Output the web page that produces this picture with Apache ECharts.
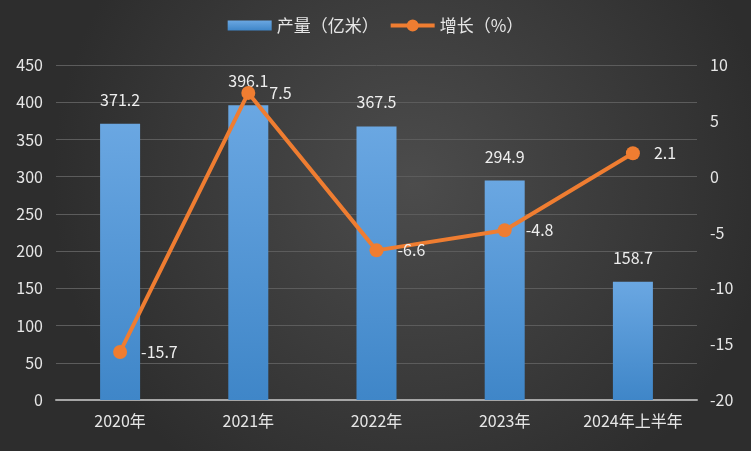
<!DOCTYPE html>
<html><head><meta charset="utf-8">
<script src="https://cdn.jsdelivr.net/npm/echarts@6/dist/echarts.min.js"></script>
<style>html,body{margin:0;padding:0;}#c{width:751px;height:451px;}</style>
</head><body><div id="c"></div>
<script>
const categories = ['2020年','2021年','2022年','2023年','2024年上半年'];
const output = [371.2, 396.1, 367.5, 294.9, 158.7];
const growth = [-15.7, 7.5, -6.6, -4.8, 2.1];
const leftTicks = {min:0, max:450, interval:50};
const rightTicks = {min:-20, max:10, interval:5};

const chart = echarts.init(document.getElementById('c'));
const font = '"Noto Sans CJK SC", "Microsoft YaHei", sans-serif';
chart.setOption({
  backgroundColor: {
    type:'radial', x:0.55, y:0.4, r:0.8,
    colorStops:[{offset:0,color:'#4c4c4c'},{offset:1,color:'#2d2d2d'}]
  },
  textStyle:{fontFamily:font},
  legend:{
    top:12, left:'center', itemWidth:44, itemHeight:12, itemGap:12,
    textStyle:{color:'#e6e6e6', fontSize:17, fontFamily:font},
    data:[
      {name:'产量（亿米）', icon:'path://M0,1h44v10H0z'},
      {name:'增长（%）', icon:'path://M0,4h44v4H0z M16,6a6,6 0 1 1 12,0a6,6 0 1 1 -12,0z',
       itemStyle:{color:'#ef7d31', borderWidth:0}}
    ]
  },
  grid:{left:56, right:54, top:65, bottom:51},
  xAxis:{
    type:'category', data:categories,
    axisLine:{lineStyle:{color:'#a6a6a6', width:2}},
    axisTick:{show:false},
    axisLabel:{color:'#e6e6e6', fontSize:16, margin:13, interval:0, fontFamily:font}
  },
  yAxis:[
    {type:'value', min:leftTicks.min, max:leftTicks.max, interval:leftTicks.interval,
     axisLabel:{color:'#e6e6e6', fontSize:16, margin:13, fontFamily:font},
     splitLine:{lineStyle:{color:'#5c5c5c', width:1}},
     axisLine:{show:false}, axisTick:{show:false}},
    {type:'value', min:rightTicks.min, max:rightTicks.max, interval:rightTicks.interval,
     axisLabel:{color:'#e6e6e6', fontSize:16, margin:13, fontFamily:font},
     splitLine:{show:false}, axisLine:{show:false}, axisTick:{show:false}}
  ],
  series:[
    {name:'产量（亿米）', type:'bar', data:output, barWidth:40,
     itemStyle:{color:{type:'linear',x:0,y:0,x2:0,y2:1,
       colorStops:[{offset:0,color:'#6aa7e2'},{offset:1,color:'#3f86c8'}]}},
     label:{show:true, position:'top', distance:16, color:'#eeeeee', fontSize:16, fontFamily:font}
    },
    {name:'增长（%）', type:'line', yAxisIndex:1, data:growth,
     symbol:'circle', symbolSize:14,
     lineStyle:{color:'#ef7d31', width:4},
     itemStyle:{color:'#ef7d31'},
     label:{show:true, position:'right', distance:14, color:'#eeeeee', fontSize:16, fontFamily:font}
    }
  ]
});
</script></body></html>
